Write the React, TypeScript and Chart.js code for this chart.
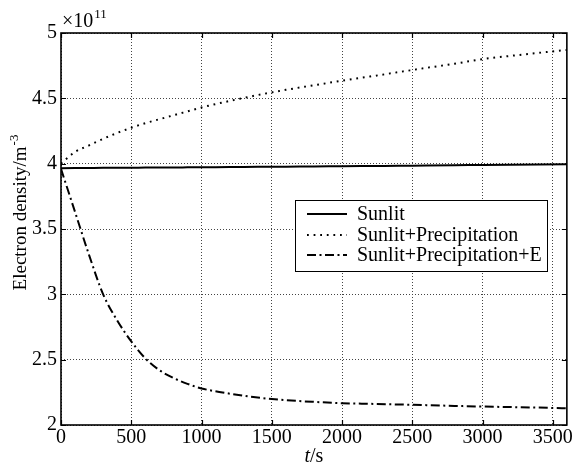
import React, { useEffect, useRef } from "react";
import { Chart, registerables } from "chart.js";

Chart.register(...registerables);

const T = [0, 100, 200, 300, 400, 500, 600, 700, 800, 900, 1000, 1200, 1400, 1600, 1800, 2000, 2200, 2400, 2600, 2800, 3000, 3200, 3400, 3600];
const sunlit = [3.965, 3.966, 3.967, 3.968, 3.968, 3.969, 3.970, 3.971, 3.971, 3.972, 3.973, 3.974, 3.976, 3.977, 3.979, 3.980, 3.982, 3.984, 3.986, 3.988, 3.990, 3.992, 3.994, 3.996];
const precip = [4.0, 4.09, 4.14, 4.19, 4.235, 4.275, 4.31, 4.34, 4.37, 4.40, 4.43, 4.48, 4.525, 4.565, 4.60, 4.635, 4.667, 4.70, 4.733, 4.765, 4.80, 4.825, 4.848, 4.87];
const precipE = [3.96, 3.63, 3.30, 3.00, 2.80, 2.64, 2.51, 2.42, 2.36, 2.315, 2.28, 2.24, 2.21, 2.19, 2.177, 2.167, 2.162, 2.157, 2.152, 2.146, 2.141, 2.137, 2.133, 2.128];
const seriesNames = ["Sunlit", "Sunlit+Precipitation", "Sunlit+Precipitation+E"];
const xTicks = [0, 500, 1000, 1500, 2000, 2500, 3000, 3500];
const yTicks = [2, 2.5, 3, 3.5, 4, 4.5, 5];

const FONT = "'Liberation Serif', 'Times New Roman', serif";
const FS = 20;

const pts = (ys: number[]) => T.map((t, i) => ({ x: t, y: ys[i] }));

const styles = [
  { color: "#000", width: 2, dash: [] as number[] },
  { color: "#000", width: 2, dash: [1.8, 4.8] },
  { color: "#000", width: 2, dash: [9, 3.5, 2, 3.5] },
];

const decor = {
  id: "decor",
  afterDraw(chart: any) {
    const ctx = chart.ctx as CanvasRenderingContext2D;
    const a = chart.chartArea;
    const xs = chart.scales.x;
    const ys = chart.scales.y;
    ctx.save();
    // inward ticks
    ctx.strokeStyle = "#000";
    ctx.lineWidth = 1.2;
    ctx.setLineDash([]);
    ctx.beginPath();
    xs.ticks.forEach((tk: any) => {
      const px = Math.round(xs.getPixelForValue(tk.value)) + 0.5;
      ctx.moveTo(px, a.bottom);
      ctx.lineTo(px, a.bottom - 5);
      ctx.moveTo(px, a.top);
      ctx.lineTo(px, a.top + 5);
    });
    ys.ticks.forEach((tk: any) => {
      const py = Math.round(ys.getPixelForValue(tk.value)) + 0.5;
      ctx.moveTo(a.left, py);
      ctx.lineTo(a.left + 5, py);
      ctx.moveTo(a.right, py);
      ctx.lineTo(a.right - 5, py);
    });
    ctx.stroke();
    // box
    ctx.lineWidth = 1.6;
    ctx.strokeRect(a.left, a.top, a.right - a.left, a.bottom - a.top);

    // legend
    const lx = 295, ly = 200, lw = 252, lh = 71;
    ctx.fillStyle = "#fff";
    ctx.fillRect(lx, ly, lw, lh);
    ctx.lineWidth = 1;
    ctx.strokeRect(lx + 0.5, ly + 0.5, lw, lh);
    const rowY = [214, 235, 255];
    ctx.font = `${FS}px ${FONT}`;
    ctx.textBaseline = "middle";
    ctx.textAlign = "left";
    seriesNames.forEach((name, i) => {
      const s = styles[i];
      ctx.strokeStyle = s.color;
      ctx.lineWidth = s.width;
      ctx.setLineDash(s.dash);
      ctx.beginPath();
      ctx.moveTo(307, rowY[i]);
      ctx.lineTo(347, rowY[i]);
      ctx.stroke();
      ctx.setLineDash([]);
      ctx.fillStyle = "#000";
      ctx.fillText(name, 357, rowY[i] + 1);
    });

    // exponent label
    ctx.fillStyle = "#000";
    ctx.textBaseline = "alphabetic";
    ctx.font = `${FS}px ${FONT}`;
    ctx.fillText("\u00d710", 62, 27);
    const w10 = ctx.measureText("\u00d710").width;
    ctx.font = `13px ${FONT}`;
    ctx.fillText("11", 62 + w10 + 1, 18);

    // x title
    ctx.font = `italic ${FS}px ${FONT}`;
    const tw = ctx.measureText("t").width;
    ctx.font = `${FS}px ${FONT}`;
    const sw = ctx.measureText("/s").width;
    const cx = (a.left + a.right) / 2;
    const x0 = cx - (tw + sw) / 2;
    ctx.font = `italic ${FS}px ${FONT}`;
    ctx.fillText("t", x0, 462);
    ctx.font = `${FS}px ${FONT}`;
    ctx.fillText("/s", x0 + tw, 462);

    // y title
    ctx.save();
    ctx.translate(26, 213);
    ctx.rotate(-Math.PI / 2);
    ctx.font = `19px ${FONT}`;
    const main = "Electron density/m";
    const mw = ctx.measureText(main).width;
    ctx.font = `13px ${FONT}`;
    const sup = "-3";
    const supw = ctx.measureText(sup).width;
    const start = -(mw + supw) / 2;
    ctx.font = `19px ${FONT}`;
    ctx.fillText(main, start, 0);
    ctx.font = `13px ${FONT}`;
    ctx.fillText(sup, start + mw + 1, -8);
    ctx.restore();

    ctx.restore();
  },
};

export default function App() {
  const ref = useRef<HTMLCanvasElement>(null);
  useEffect(() => {
    if (!ref.current) return;
    const chart = new Chart(ref.current, {
      type: "line",
      data: {
        datasets: [sunlit, precip, precipE].map((d, i) => ({
          label: seriesNames[i],
          data: pts(d),
          borderColor: styles[i].color,
          borderWidth: styles[i].width,
          borderDash: styles[i].dash,
          pointRadius: 0,
          cubicInterpolationMode: "monotone" as const,
          fill: false,
        })),
      },
      options: {
        animation: false,
        responsive: false,
        maintainAspectRatio: false,
        layout: { padding: { top: 33, right: 7, left: 0, bottom: 0 } },
        plugins: { legend: { display: false }, tooltip: { enabled: false } },
        scales: {
          x: {
            type: "linear",
            min: 0,
            max: 3600,
            afterFit: (s: any) => { s.height = 38; },
            afterBuildTicks: (s: any) => { s.ticks = xTicks.map((v) => ({ value: v })); },
            ticks: {
              autoSkip: false,
              color: "#000",
              font: { family: FONT, size: FS },
              padding: 1,
              maxRotation: 0,
              callback: (v: any) => String(v),
            },
            grid: { color: "#444", lineWidth: 1, drawTicks: false },
            border: { display: false, dash: [1, 2] },
          },
          y: {
            type: "linear",
            min: 2,
            max: 5,
            afterFit: (s: any) => { s.width = 61; },
            afterBuildTicks: (s: any) => { s.ticks = yTicks.map((v) => ({ value: v })); },
            ticks: {
              autoSkip: false,
              color: "#000",
              font: { family: FONT, size: FS },
              padding: 4,
              callback: (v: any) => String(v),
            },
            grid: { color: "#444", lineWidth: 1, drawTicks: false },
            border: { display: false, dash: [1, 2] },
          },
        },
      },
      plugins: [decor],
    });
    return () => chart.destroy();
  }, []);
  return (
    <div style={{ position: "fixed", left: 0, top: 0, width: 574, height: 463, background: "#fff" }}>
      <canvas ref={ref} width={574} height={463} style={{ display: "block" }} />
    </div>
  );
}
